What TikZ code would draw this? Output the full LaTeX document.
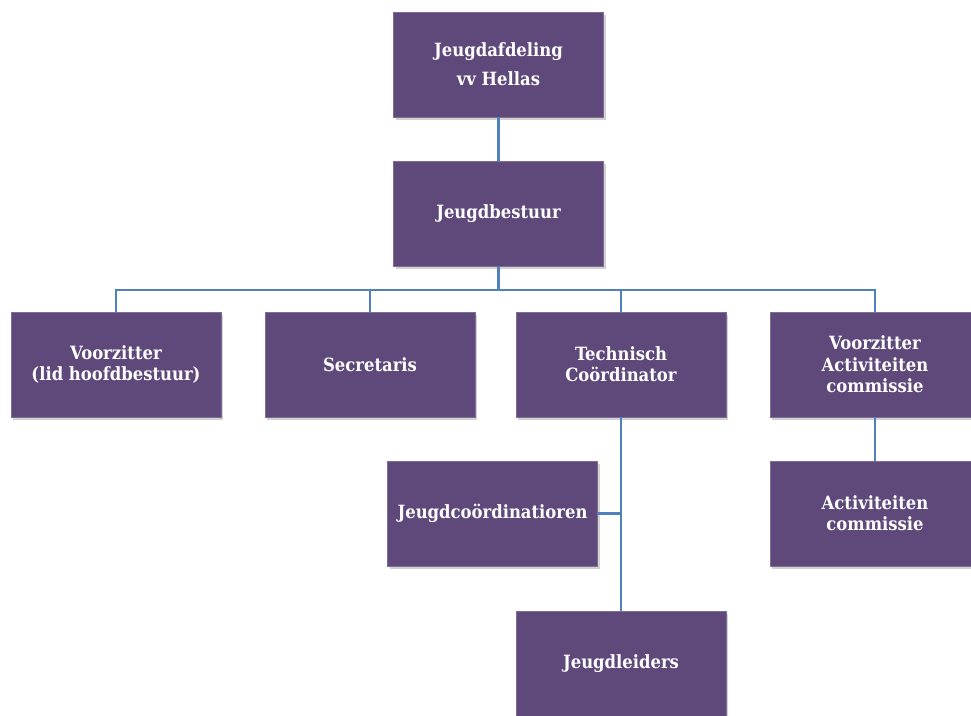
\documentclass[tikz,border=0pt]{standalone}
\usepackage{fontspec}
\setmainfont{DejaVu Serif Condensed}
\usetikzlibrary{shadows}
\definecolor{paars}{RGB}{95,73,122}
\definecolor{lijnblauw}{RGB}{79,129,189}

\begin{document}
\begin{tikzpicture}[x=0.75pt,y=-0.75pt]
	\tikzstyle{blok}=[draw=paars!80!white,line width=0.4pt,fill=paars,text=white,
		minimum width=157.5pt,minimum height=78.75pt,align=center,
		font=\fontsize{13.7}{16}\selectfont\bfseries,
		drop shadow={shadow xshift=1.5pt,shadow yshift=-2pt,opacity=0.3,fill=black!60}];
	\tikzstyle{lijn}=[draw=lijnblauw,line width=1.6pt];

	\useasboundingbox (0,0) rectangle (971,716);
	\clip (0,0) rectangle (971,716);

	\node[blok] (top) at (498.5,64.5) {Jeugdafdeling\\[6pt]vv Hellas};
	\node[blok] (bestuur) at (498.5,214) {Jeugdbestuur};
	\node[blok] (voorz) at (116,364.5) {Voorzitter\\(lid hoofdbestuur)};
	\node[blok] (secr) at (370,364.5) {Secretaris};
	\node[blok] (techn) at (621,364.5) {Technisch\\Coördinator};
	\node[blok] (vac) at (875,364.5) {Voorzitter\\Activiteiten\\commissie};
	\node[blok] (coord) at (492.5,513.5) {Jeugdcoördinatioren};
	\node[blok] (act) at (875,513.5) {Activiteiten\\commissie};
	\node[blok] (leiders) at (621,663.5) {Jeugdleiders};
	\coordinate (rail) at (0,290);

	\draw[lijn] (top) -- (bestuur);
	\draw[lijn] (bestuur.south) -- (bestuur.south |- rail) -| (voorz.north);
	\draw[lijn] (bestuur.south) -- (bestuur.south |- rail) -| (secr.north);
	\draw[lijn] (bestuur.south) -- (bestuur.south |- rail) -| (techn.north);
	\draw[lijn] (bestuur.south) -- (bestuur.south |- rail) -| (vac.north);
	\draw[lijn] (techn) -- (leiders);
	\draw[lijn] (coord.east) -- (coord.east -| techn.south);
	\draw[lijn] (vac) -- (act);
\end{tikzpicture}
\end{document}
